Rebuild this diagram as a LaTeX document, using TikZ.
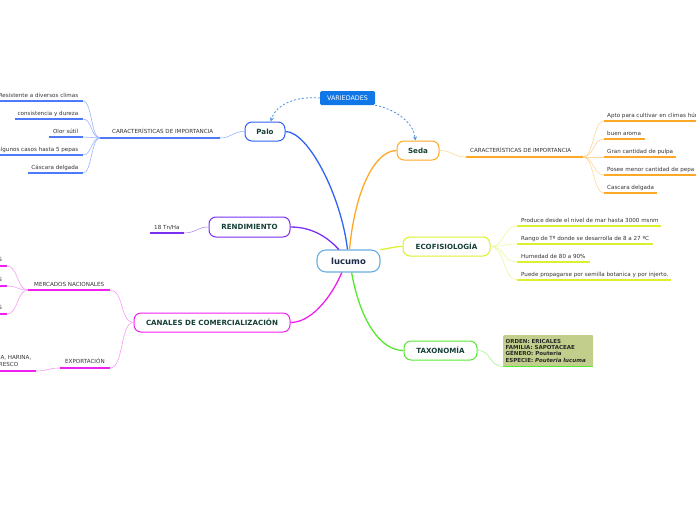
\documentclass[tikz,border=0pt]{standalone}
\usepackage{fontspec}
\setmainfont{DejaVu Sans}
\usetikzlibrary{arrows.meta}
\definecolor{blueC}{HTML}{2F62F5}
\definecolor{blueL}{HTML}{9AB3FF}
\definecolor{orangeC}{HTML}{FFA726}
\definecolor{orangeL}{HTML}{FFD699}
\definecolor{purpleC}{HTML}{7B2FF2}
\definecolor{purpleL}{HTML}{B38CF8}
\definecolor{magC}{HTML}{F020F0}
\definecolor{magL}{HTML}{F79AF7}
\definecolor{yelC}{HTML}{DDF030}
\definecolor{yelL}{HTML}{ECF79A}
\definecolor{greenC}{HTML}{55E830}
\definecolor{greenL}{HTML}{A6F28F}
\definecolor{titleC}{HTML}{163F36}
\definecolor{rootB}{HTML}{6AAEE0}
\definecolor{rootT}{HTML}{1C2A4A}
\definecolor{leafT}{HTML}{333333}
\definecolor{varB}{HTML}{1177E6}
\definecolor{dashC}{HTML}{4A90E2}
\definecolor{taxF}{HTML}{C2CF8C}
\tikzset{
  mainnode/.style={draw, rounded corners=7pt, line width=1pt, fill=white, text=titleC,
    font=\bfseries\fontsize{7.1}{8}\selectfont, minimum height=19pt, inner sep=0pt},
  leaf/.style={text=leafT, font=\fontsize{5.6}{6.5}\selectfont, inner sep=0pt},
  ul/.style={line width=1.6pt},
  conn/.style={line width=0.6pt},
  branch/.style={line width=1.3pt},
  dashlink/.style={dashC, line width=0.8pt, dash pattern=on 2pt off 2pt, -{Stealth[length=4pt,width=4pt]}},
}
\begin{document}
\begin{tikzpicture}[x=1pt,y=-1pt]
\useasboundingbox (0,0) rectangle (696,520);

% root and main nodes
\node[draw=rootB, line width=1.1pt, rounded corners=9pt, fill=white, text=rootT,
  font=\bfseries\fontsize{8.5}{10}\selectfont, minimum width=63pt, minimum height=22pt, inner sep=0pt] (root) at (348.5,261) {lucumo};
\node[mainnode, draw=blueC, minimum width=40pt] (palo) at (265,131.5) {Palo};
\node[mainnode, draw=orangeC, minimum width=42pt] (seda) at (418,150.5) {Seda};
\node[mainnode, draw=purpleC, minimum width=81pt, minimum height=20pt] (rend) at (249.5,227) {RENDIMIENTO};
\node[mainnode, draw=magC, minimum width=156pt] (can) at (212,322.5) {CANALES DE COMERCIALIZACIÓN};
\node[mainnode, draw=yelC, minimum width=87pt] (eco) at (446.5,246.5) {ECOFISIOLOGÍA};
\node[mainnode, draw=greenC, minimum width=73pt] (taxo) at (440.5,350.5) {TAXONOMÍA};
\node[fill=varB, text=white, rounded corners=1.5pt, minimum width=55pt, minimum height=14pt, inner sep=0pt,
  font=\fontsize{6.4}{7}\selectfont] (var) at (347.5,98) {VARIEDADES};

% main branches
\draw[branch, blueC] (root.95) .. controls (341,195) and (308,131.5) .. (palo.east);
\draw[branch, orangeC] (root.85) .. controls (355,190) and (375,150.5) .. (seda.west);
\draw[branch, purpleC] (root.130) .. controls (330,240) and (315,227) .. (rend.east);
\draw[branch, magC] (root.240) .. controls (330,300) and (310,322.5) .. (can.east);
\draw[branch, yelC] (root.20) .. controls (390,249) and (392,246.5) .. (eco.west);
\draw[branch, greenC] (root.-75) .. controls (360,320) and (380,350.5) .. (taxo.west);

% VARIEDADES dashed links
\draw[dashlink] (var.west) .. controls (296,96) and (276,104) .. (palo.60);
\draw[dashlink] (var.south east) .. controls (398,110) and (414,124) .. (seda.105);

% Palo characteristics
\coordinate (pcL) at (100,138); \coordinate (pcR) at (220,138);
\draw[ul, blueC!85] (pcL) -- (pcR);
\node[leaf, anchor=base west] (pc) at (112,133.5) {CARACTERÍSTICAS DE IMPORTANCIA};
\draw[conn, blueL] (palo.west) .. controls (232,131.5) and (232,138) .. (pcR);
\foreach \y/\xl/\t [count=\i] in {101/0/Resistente a diversos climas, 119/15/consistencia y dureza, 137/49/Olor sútil, 155/0/algunos casos hasta 5 pepas, 173/28/Cáscara delgada}{
  \coordinate (paL\i) at (\xl,\y); \coordinate (paR\i) at (83,\y);
  \draw[ul, blueC!85] (paL\i) -- (paR\i);
  \node[leaf, anchor=base east] (pa\i) at (78.5,\y-4) {\t};
  \draw[conn, blueL] (pcL) .. controls (91,138) and (92,\y) .. (paR\i);
}

% Seda characteristics
\coordinate (scL) at (466,157); \coordinate (scR) at (583,157);
\draw[ul, orangeC] (scL) -- (scR);
\node[leaf, anchor=base west] (sc) at (470,152.5) {CARACTERÍSTICAS DE IMPORTANCIA};
\draw[conn, orangeL] (seda.east) .. controls (453,150.5) and (453,157) .. (scL);
\foreach \y/\xr/\t [count=\i] in {121/696/Apto para cultivar en climas húmedos, 139/645/buen aroma, 157/676/Gran cantidad de pulpa, 175/696/Posee menor cantidad de pepa, 193/657/Cascara delgada}{
  \coordinate (seL\i) at (604,\y); \coordinate (seR\i) at (\xr,\y);
  \draw[ul, orangeC] (seL\i) -- (seR\i);
  \node[leaf, anchor=base west] (se\i) at (607,\y-4) {\t};
  \draw[conn, orangeL] (scR) .. controls (594,157) and (593,\y) .. (seL\i);
}

% Ecofisiologia leaves
\foreach \y/\xr/\t [count=\i] in {226/661/Produce desde el nivel de mar hasta 3000 msnm, 244/653/Rango de Tº donde se desarrolla de 8 a 27 ºC, 262/590/Humedad de 80 a 90\%, 280/671/Puede propagarse por semilla botanica y por injerto.}{
  \coordinate (ecL\i) at (517,\y); \coordinate (ecR\i) at (\xr,\y);
  \draw[ul, yelC] (ecL\i) -- (ecR\i);
  \node[leaf, anchor=base west] (ec\i) at (521,\y-4) {\t};
  \draw[conn, yelL] (eco.east) .. controls (505,246.5) and (503,\y) .. (ecL\i);
}

% Taxonomia box
\node[fill=taxF, rounded corners=1pt, anchor=north west, minimum width=89pt, minimum height=31pt,
  text width=85pt, align=left, inner xsep=2.5pt, inner ysep=2.5pt, text=black!85,
  font=\bfseries\fontsize{5.5}{6.2}\selectfont] (tax) at (503,335)
  {ORDEN: ERICALES\\FAMILIA: SAPOTACEAE\\GÉNERO: Pouteria\\ESPECIE: \textit{Pouteria lucuma}};
\draw[ul, greenC] (tax.south west) -- (tax.south east);
\draw[conn, greenL] (taxo.east) .. controls (492,350.5) and (488,366) .. (tax.south west);

% Rendimiento leaf
\coordinate (reL) at (150,233); \coordinate (reR) at (184,233);
\draw[ul, purpleC] (reL) -- (reR);
\node[leaf, anchor=base west] (re) at (154,229) {18 Tn/Ha};
\draw[conn, purpleL] (rend.west) .. controls (197,227) and (196,233) .. (reR);

% Canales
\coordinate (mnL) at (28,290); \coordinate (mnR) at (110,290);
\draw[ul, magC] (mnL) -- (mnR);
\node[leaf, anchor=base west] (mn) at (34,286) {MERCADOS NACIONALES};
\coordinate (exL) at (60,368); \coordinate (exR) at (110,368);
\draw[ul, magC] (exL) -- (exR);
\node[leaf, anchor=base west] (ex) at (65,363.5) {EXPORTACIÓN};
\draw[conn, magL] (can.west) .. controls (120,322.5) and (124,290) .. (mnR);
\draw[conn, magL] (can.west) .. controls (120,322.5) and (124,368) .. (exR);

\foreach \y [count=\i] in {266,286,314}{
  \coordinate (mlL\i) at (0,\y); \coordinate (mlR\i) at (7,\y);
  \draw[ul, magC] (mlL\i) -- (mlR\i);
  \node[leaf, anchor=base east] (ml\i) at (2.2,\y-5) {S};
  \draw[conn, magL] (mnL) .. controls (17,290) and (18,\y) .. (mlR\i);
}
\coordinate (xlL) at (0,371); \coordinate (xlR) at (36,371);
\draw[line width=1.6pt, draw=magC] (xlL) -- (xlR);
\draw[conn, magL] (exL) .. controls (48,368) and (48,371) .. (xlR);
\node[leaf, anchor=base east] (xl1) at (31.5,359) {A, HARINA,};
\node[leaf, anchor=base east] (xl2) at (18.5,366.5) {RESCO};
\end{tikzpicture}
\end{document}
